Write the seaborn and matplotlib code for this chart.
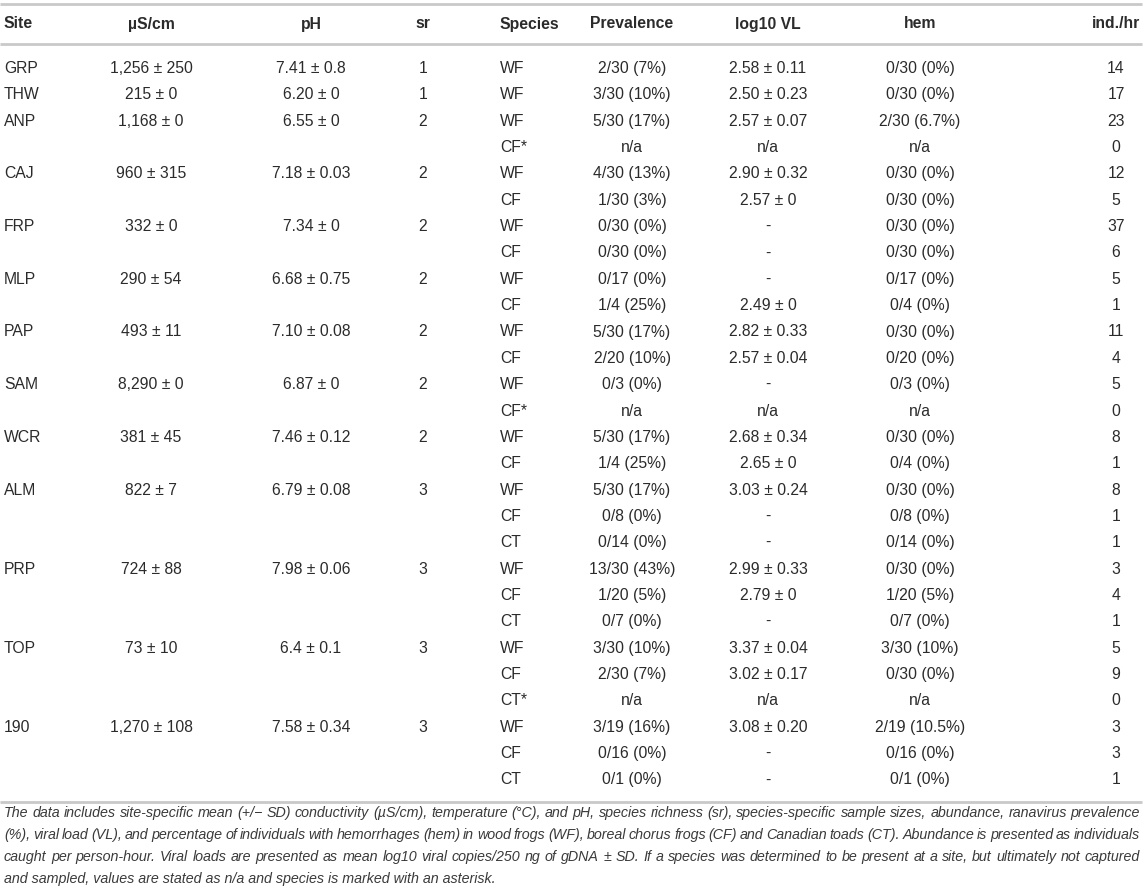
import matplotlib
matplotlib.use("Agg")
import matplotlib.pyplot as plt
from matplotlib import font_manager
import seaborn as sns

# ==================================
# TABLE DATA
# ==================================

headers = ["Site", "\u00b5S/cm", "pH", "sr", "Species", "Prevalence",
           "log10 VL", "hem", "ind./hr"]

sites = ["GRP", "THW", "ANP", "", "CAJ", "", "FRP", "", "MLP", "", "PAP", "",
         "SAM", "", "WCR", "", "ALM", "", "", "PRP", "", "", "TOP", "", "",
         "190", "", ""]
conductivity = ["1,256 \u00b1 250", "215 \u00b1 0", "1,168 \u00b1 0", "",
                "960 \u00b1 315", "", "332 \u00b1 0", "", "290 \u00b1 54", "",
                "493 \u00b1 11", "", "8,290 \u00b1 0", "", "381 \u00b1 45", "",
                "822 \u00b1 7", "", "", "724 \u00b1 88", "", "", "73 \u00b1 10",
                "", "", "1,270 \u00b1 108", "", ""]
ph = ["7.41 \u00b1 0.8", "6.20 \u00b1 0", "6.55 \u00b1 0", "", "7.18 \u00b1 0.03", "",
      "7.34 \u00b1 0", "", "6.68 \u00b1 0.75", "", "7.10 \u00b1 0.08", "",
      "6.87 \u00b1 0", "", "7.46 \u00b1 0.12", "", "6.79 \u00b1 0.08", "", "",
      "7.98 \u00b1 0.06", "", "", "6.4 \u00b1 0.1", "", "", "7.58 \u00b1 0.34", "", ""]
richness = ["1", "1", "2", "", "2", "", "2", "", "2", "", "2", "", "2", "",
            "2", "", "3", "", "", "3", "", "", "3", "", "", "3", "", ""]
species = ["WF", "WF", "WF", "CF*", "WF", "CF", "WF", "CF", "WF", "CF", "WF",
           "CF", "WF", "CF*", "WF", "CF", "WF", "CF", "CT", "WF", "CF", "CT",
           "WF", "CF", "CT*", "WF", "CF", "CT"]
prevalence = ["2/30 (7%)", "3/30 (10%)", "5/30 (17%)", "n/a", "4/30 (13%)",
              "1/30 (3%)", "0/30 (0%)", "0/30 (0%)", "0/17 (0%)", "1/4 (25%)",
              "5/30 (17%)", "2/20 (10%)", "0/3 (0%)", "n/a", "5/30 (17%)",
              "1/4 (25%)", "5/30 (17%)", "0/8 (0%)", "0/14 (0%)", "13/30 (43%)",
              "1/20 (5%)", "0/7 (0%)", "3/30 (10%)", "2/30 (7%)", "n/a",
              "3/19 (16%)", "0/16 (0%)", "0/1 (0%)"]
viral_load = ["2.58 \u00b1 0.11", "2.50 \u00b1 0.23", "2.57 \u00b1 0.07", "n/a",
              "2.90 \u00b1 0.32", "2.57 \u00b1 0", "-", "-", "-", "2.49 \u00b1 0",
              "2.82 \u00b1 0.33", "2.57 \u00b1 0.04", "-", "n/a", "2.68 \u00b1 0.34",
              "2.65 \u00b1 0", "3.03 \u00b1 0.24", "-", "-", "2.99 \u00b1 0.33",
              "2.79 \u00b1 0", "-", "3.37 \u00b1 0.04", "3.02 \u00b1 0.17", "n/a",
              "3.08 \u00b1 0.20", "-", "-"]
hemorrhage = ["0/30 (0%)", "0/30 (0%)", "2/30 (6.7%)", "n/a", "0/30 (0%)",
              "0/30 (0%)", "0/30 (0%)", "0/30 (0%)", "0/17 (0%)", "0/4 (0%)",
              "0/30 (0%)", "0/20 (0%)", "0/3 (0%)", "n/a", "0/30 (0%)", "0/4 (0%)",
              "0/30 (0%)", "0/8 (0%)", "0/14 (0%)", "0/30 (0%)", "1/20 (5%)",
              "0/7 (0%)", "3/30 (10%)", "0/30 (0%)", "n/a", "2/19 (10.5%)",
              "0/16 (0%)", "0/1 (0%)"]
abundance = ["14", "17", "23", "0", "12", "5", "37", "6", "5", "1", "11", "4",
             "5", "0", "8", "1", "8", "1", "1", "3", "4", "1", "5", "9", "0",
             "3", "3", "1"]

footnote_lines = [
    "The data includes site-specific mean (+/\u2212 SD) conductivity (\u00b5S/cm), "
    "temperature (\u00b0C), and pH, species richness (sr), species-specific sample "
    "sizes, abundance, ranavirus prevalence",
    "(%), viral load (VL), and percentage of individuals with hemorrhages (hem) in "
    "wood frogs (WF), boreal chorus frogs (CF) and Canadian toads (CT). Abundance is "
    "presented as individuals",
    "caught per person-hour. Viral loads are presented as mean log10 viral "
    "copies/250 ng of gDNA \u00b1 SD. If a species was determined to be present at "
    "a site, but ultimately not captured",
    "and sampled, values are stated as n/a and species is marked with an asterisk.",
]

columns = [sites, conductivity, ph, richness, species, prevalence,
           viral_load, hemorrhage, abundance]

# ==================================
# LAYOUT
# ==================================

sns.set_theme(style="white")
plt.rcParams["font.family"] = ["Liberation Sans", "DejaVu Sans"]

names = {f.name for f in font_manager.fontManager.ttflist}
note_font = "Liberation Sans Narrow" if "Liberation Sans Narrow" in names else "Liberation Sans"

W, H = 1145, 891
fig = plt.figure(figsize=(W / 100, H / 100), dpi=100)
ax = fig.add_axes([0, 0, 1, 1])
ax.set_xlim(0, W)
ax.set_ylim(H, 0)
ax.axis("off")

col_x = [4, 151, 311, 423, 500, 632, 768, 920, 1116]
col_ha = ["left", "center", "center", "center", "left", "center",
          "center", "center", "center"]
text_color = "#2b2b2b"
line_color = "#c9c9c9"
fs = 11.3

# rules
for y in [4, 44, 802]:
    ax.plot([0, 1142], [y, y], color=line_color, lw=2, solid_capstyle="butt")

# header
for x, ha, h in zip(col_x, col_ha, headers):
    ax.text(x, 24, h, ha=ha, va="center", fontsize=fs, fontweight="bold",
            color=text_color)

# body
row0, step = 68.5, 26.35
for c, (x, ha) in enumerate(zip(col_x, col_ha)):
    for i, val in enumerate(columns[c]):
        if val:
            ax.text(x, row0 + i * step, val, ha=ha, va="center", fontsize=fs,
                    color=text_color)

# footnote, justified lines
fig.canvas.draw()
renderer = fig.canvas.get_renderer()
left, right = 4, 1140


def note_kw(size):
    return dict(fontsize=size, style="italic", family=[note_font, "DejaVu Sans"],
                color="#3a3a3a", va="center", ha="left")


def word_widths(words, size):
    out = []
    for w in words:
        t = ax.text(0, 0, w, **note_kw(size))
        out.append(t.get_window_extent(renderer).width)
        t.remove()
    return out


# pick the largest size that still lets the widest line fit with normal gaps
note_size = 12.0
while note_size > 8:
    ok = True
    for line in footnote_lines[:-1]:
        words = line.split(" ")
        ww = word_widths(words, note_size)
        if sum(ww) + 2.4 * (len(words) - 1) > right - left:
            ok = False
            break
    if ok:
        break
    note_size -= 0.1

for k, line in enumerate(footnote_lines):
    y = 813 + k * 22
    if k == len(footnote_lines) - 1:
        ax.text(left, y, line, **note_kw(note_size))
        continue
    words = line.split(" ")
    widths = word_widths(words, note_size)
    gap = (right - left - sum(widths)) / (len(words) - 1)
    x = left
    for w, wd in zip(words, widths):
        ax.text(x, y, w, **note_kw(note_size))
        x += wd + gap

fig.savefig("out.png", dpi=100)
